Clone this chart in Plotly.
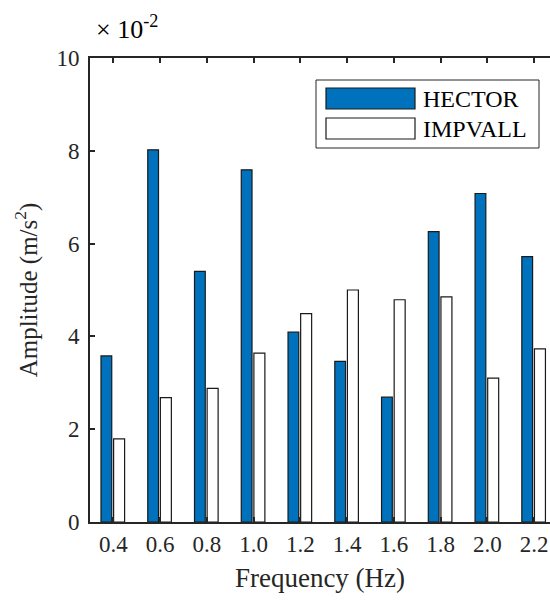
import plotly.graph_objects as go

freq = [0.4, 0.6, 0.8, 1.0, 1.2, 1.4, 1.6, 1.8, 2.0, 2.2]
tick_labels = ["0.4", "0.6", "0.8", "1.0", "1.2", "1.4", "1.6", "1.8", "2.0", "2.2"]
hector = [3.58, 8.02, 5.40, 7.59, 4.09, 3.46, 2.69, 6.26, 7.08, 5.72]
impvall = [1.79, 2.68, 2.88, 3.64, 4.49, 5.00, 4.79, 4.85, 3.10, 3.73]

FONT = "Liberation Serif, Times New Roman, serif"
AX = "#262626"
BLUE = "#0072BD"

fig = go.Figure()
fig.add_trace(go.Bar(x=freq, y=hector, name="HECTOR", width=0.046, offset=-0.053,
                     marker=dict(color=BLUE, line=dict(color="#1a1a1a", width=1.2))))
fig.add_trace(go.Bar(x=freq, y=impvall, name="IMPVALL", width=0.047, offset=0.001,
                     marker=dict(color="white", line=dict(color="#1a1a1a", width=1.2))))

# legend drawn manually (paper coords): plot area x 90..550, y 58..522
W, L, T, B = 460.0, 90.0, 58.0, 522.0
def px(x): return (x - L) / W
def py(y): return (B - y) / (B - T)

shapes = [
    dict(type="rect", xref="paper", yref="paper", x0=px(316), x1=px(539), y0=py(148), y1=py(80),
         line=dict(color=AX, width=1), fillcolor="white", layer="above"),
    dict(type="rect", xref="paper", yref="paper", x0=px(326), x1=px(415), y0=py(109), y1=py(88),
         line=dict(color="#1a1a1a", width=1.2), fillcolor=BLUE, layer="above"),
    dict(type="rect", xref="paper", yref="paper", x0=px(326), x1=px(415), y0=py(139), y1=py(118),
         line=dict(color="#1a1a1a", width=1.2), fillcolor="white", layer="above"),
]
annotations = [
    dict(text="HECTOR", xref="paper", yref="paper", x=px(421), y=py(99), xanchor="left",
         yanchor="middle", showarrow=False, font=dict(family=FONT, size=24, color="black")),
    dict(text="IMPVALL", xref="paper", yref="paper", x=px(421), y=py(129), xanchor="left",
         yanchor="middle", showarrow=False, font=dict(family=FONT, size=24, color="black")),
    dict(text="× 10<sup>-2</sup>", xref="paper", yref="paper", x=px(94), y=py(28), xanchor="left",
         yanchor="middle", showarrow=False, font=dict(family=FONT, size=26, color="black")),
]

fig.update_layout(
    width=550, height=601,
    margin=dict(l=90, r=0, t=58, b=79),
    paper_bgcolor="white", plot_bgcolor="white",
    showlegend=False, barmode="overlay",
    font=dict(family=FONT, size=23, color=AX),
    shapes=shapes, annotations=annotations,
    xaxis=dict(range=[0.3, 0.4 + (550 - 113) / 46.8 * 0.2], tickmode="array", tickvals=freq,
               ticktext=tick_labels, ticks="inside", ticklen=5, tickwidth=1.5, tickcolor=AX,
               showline=True, linecolor=AX, linewidth=1.8, mirror="ticks", showgrid=False,
               zeroline=False, tickfont=dict(family=FONT, size=23, color=AX),
               title=dict(text="Frequency (Hz)", font=dict(family=FONT, size=27, color=AX), standoff=13)),
    yaxis=dict(range=[0, 10], tickvals=[0, 2, 4, 6, 8, 10], ticks="inside", ticklen=5,
               tickwidth=1.5, tickcolor=AX, showline=True, linecolor=AX, linewidth=1.8,
               showgrid=False, zeroline=False, tickfont=dict(family=FONT, size=23, color=AX),
               ticklabelstandoff=4,
               title=dict(text="Amplitude (m/s<sup>2</sup>)", font=dict(family=FONT, size=25, color=AX),
                          standoff=12)),
)

fig.write_html("out.html", config={"displayModeBar": False},
               post_script="document.body.style.margin='0';document.body.style.padding='0';")
